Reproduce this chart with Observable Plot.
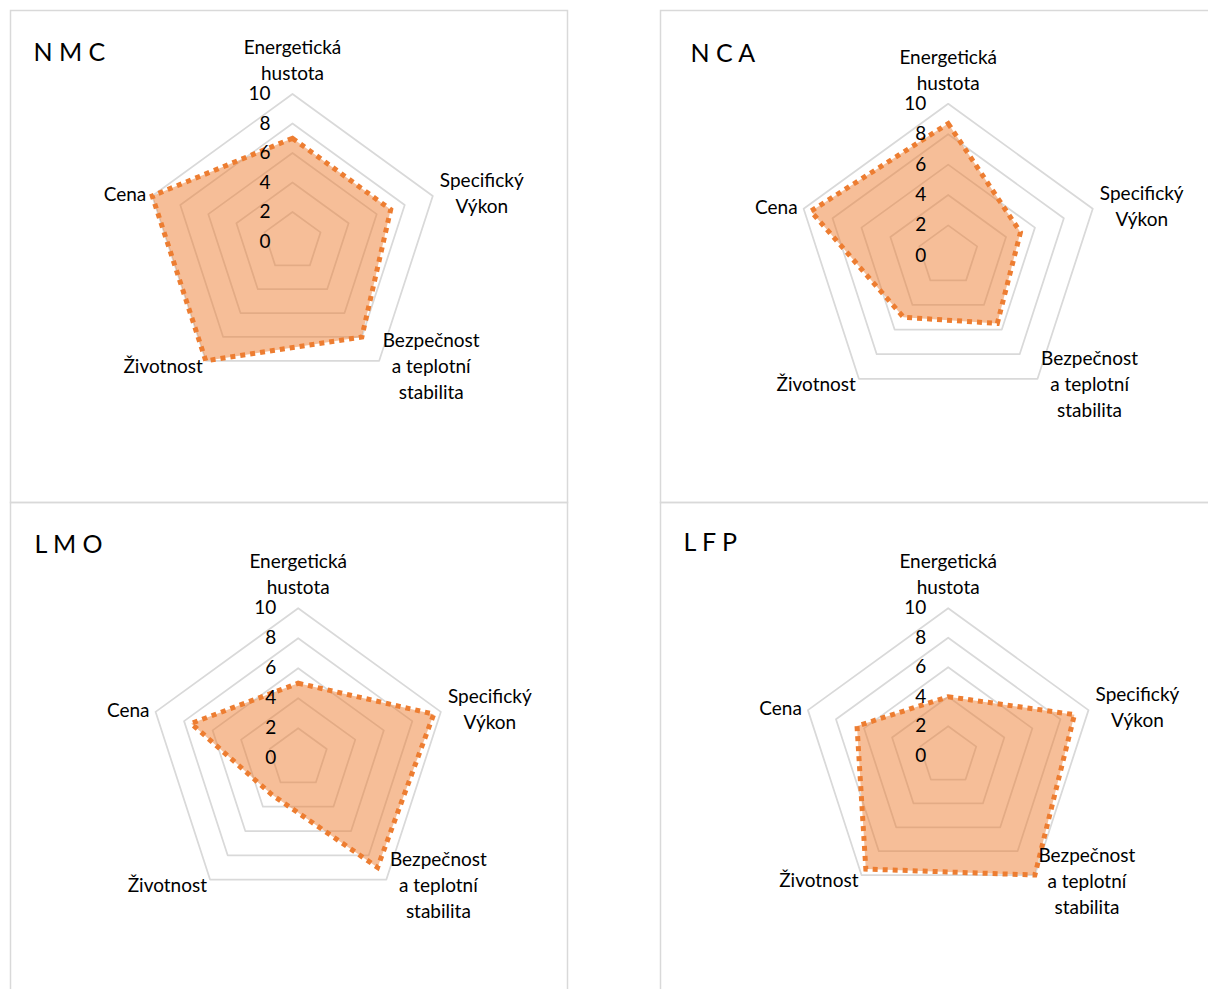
<!DOCTYPE html>
<html>
<head>
<meta charset="utf-8">
<script src="https://cdn.jsdelivr.net/npm/d3@7"></script>
<script src="https://cdn.jsdelivr.net/npm/@observablehq/plot@0.6"></script>
<style>
  html, body { margin: 0; padding: 0; background: #fff; overflow: hidden; }
  #root { position: relative; width: 1208px; height: 989px; overflow: hidden; background: #fff; }
  .panel { position: absolute; }
  .panel svg { display: block; overflow: visible; max-width: none !important; }
</style>
</head>
<body>
<div id="root"></div>
<script>
// Radar axes, clockwise from the top
const axes = ["Energetická hustota", "Specifický Výkon", "Bezpečnost a teplotní stabilita", "Životnost", "Cena"];
const axisLines = [["Energetická", "hustota"], ["Specifický", "Výkon"], ["Bezpečnost", "a teplotní", "stabilita"], ["Životnost"], ["Cena"]];

// Cathode chemistries (panel titles)
const chemistries = ["N M C", "N C A", "L M O", "L F P"];

// Scores 0–10 per axis
const nmc = [7, 7, 8, 10, 10];
const nca = [8.7, 5, 5.5, 5, 9.5];
const lmo = [5, 9.5, 9, 3, 7.5];
const lfp = [4, 9, 10, 9.5, 6.5];

// Radial grid and its tick labels
const ringLevels = [2, 4, 6, 8, 10];
const tickLabels = [0, 2, 4, 6, 8, 10];

// Panel frames (page pixels): box, radar centre, outer radius, title offset
const layout = [
  {values: nmc, left: 10,  top: 10,  w: 557, h: 492, cx: 292,   cy: 241,   R: 147.5, tdx: 23, tdy: 50},
  {values: nca, left: 660, top: 10,  w: 570, h: 492, cx: 947.7, cy: 255.3, R: 152,   tdx: 30, tdy: 51.5},
  {values: lmo, left: 10,  top: 502, w: 557, h: 510, cx: 297.7, cy: 757.7, R: 150,   tdx: 24, tdy: 50},
  {values: lfp, left: 660, top: 502, w: 570, h: 510, cx: 947.7, cy: 755.2, R: 147.5, tdx: 23, tdy: 48}
];

// Label placement around each outer vertex: anchor, offsets (px)
const labelStyle = [
  {textAnchor: "middle", dx: 0,   dy: -14},
  {textAnchor: "middle", dx: 49,  dy: 17},
  {textAnchor: "middle", dx: 52,  dy: 38.5},
  {textAnchor: "end",    dx: -3,  dy: 12},
  {textAnchor: "end",    dx: -6,  dy: 5}
];

const FONT = "Lato, 'Open Sans', sans-serif";
const ORANGE = "#ED7D31";
const GRID = "#d9d9d9";
const step = (2 * Math.PI) / axes.length;
const polar = (i, v) => ({x: v * Math.sin(i * step), y: v * Math.cos(i * step)});
const maxLevel = d3.max(ringLevels);

const root = document.getElementById("root");

layout.forEach((p, k) => {
  const unit = p.R / maxLevel;
  const cxl = p.cx - p.left, cyl = p.cy - p.top;

  const rings = ringLevels.flatMap(level => axes.map((a, i) => ({level, ...polar(i, level)})));
  const series = p.values.map((v, i) => ({axis: axes[i], value: v, ...polar(i, v)}));

  const labelMarks = axes.map((a, i) => {
    const end = polar(i, maxLevel);
    return Plot.text([axisLines[i].join("\n")], {
      x: () => end.x,
      y: () => end.y,
      text: d => d,
      textAnchor: labelStyle[i].textAnchor,
      lineAnchor: "bottom",
      lineHeight: 26 / 19,
      dx: labelStyle[i].dx,
      dy: labelStyle[i].dy,
      fontSize: 19,
      fontFamily: FONT,
      fill: "#000"
    });
  });

  const chart = Plot.plot({
    width: p.w,
    height: p.h,
    margin: 0,
    style: {fontFamily: FONT, background: "transparent", overflow: "visible"},
    x: {type: "linear", domain: [-cxl / unit, (p.w - cxl) / unit], range: [0, p.w], axis: null},
    y: {type: "linear", domain: [-(p.h - cyl) / unit, cyl / unit], range: [p.h, 0], axis: null},
    marks: [
      Plot.frame({stroke: GRID, strokeWidth: 1.5}),
      Plot.line(rings, {x: "x", y: "y", z: "level", curve: "linear-closed", stroke: GRID, strokeWidth: 1.75}),
      Plot.line(series, {x: "x", y: "y", curve: "linear-closed", fill: ORANGE, fillOpacity: 0.5, stroke: "none"}),
      Plot.line(series, {
        x: "x", y: "y", curve: "linear-closed",
        stroke: ORANGE, strokeWidth: 5, strokeDasharray: "5,5",
        strokeLinecap: "butt", strokeLinejoin: "miter", strokeMiterlimit: 4
      }),
      Plot.text(tickLabels, {
        x: 0, y: d => d, text: d => `${d}`,
        textAnchor: "end", dx: -22, fontSize: 19, fontFamily: FONT, fill: "#000"
      }),
      ...labelMarks,
      Plot.text([chemistries[k]], {
        frameAnchor: "top-left", text: d => d,
        textAnchor: "start", lineAnchor: "bottom",
        dx: p.tdx, dy: p.tdy, fontSize: 25, fontFamily: FONT, fill: "#000"
      })
    ]
  });

  const wrap = document.createElement("div");
  wrap.className = "panel";
  wrap.style.left = p.left + "px";
  wrap.style.top = p.top + "px";
  wrap.style.width = p.w + "px";
  wrap.style.height = p.h + "px";
  wrap.appendChild(chart);
  root.appendChild(wrap);
});
</script>
</body>
</html>
